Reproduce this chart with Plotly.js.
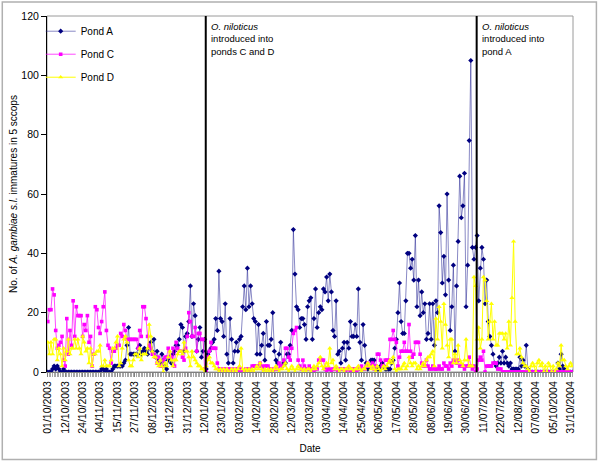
<!DOCTYPE html>
<html><head><meta charset="utf-8">
<script src="https://cdn.plot.ly/plotly-3.0.1.min.js"></script>
<style>html,body{margin:0;padding:0;background:#fff}#chart{width:600px;height:463px}</style>
</head><body><div id="chart"></div>
<script>
// Tick labels shown every 11th sampling occasion
const dateLabels = ['01/10/2003','12/10/2003','24/10/2003','04/11/2003','15/11/2003','27/11/2003','08/12/2003','19/12/2003','31/12/2003','12/01/2004','23/01/2004','03/02/2004','14/02/2004','28/02/2004','12/03/2004','23/03/2004','03/04/2004','14/04/2004','25/04/2004','06/05/2004','17/05/2004','28/05/2004','08/06/2004','19/06/2004','30/06/2004','11/07/2004','22/07/2004','12/08/2004','07/09/2004','05/10/2004','31/10/2004'];
const labelEvery = 11;

const pondA = [
0,0,0,1,2,1,2,1,0,0,
1,0,0,0,0,0,0,0,0,0,
0,0,0,0,0,0,0,0,0,0,
0,0,0,0,1,1,0,1,0,0,
0,1,2,2,2,2,2,2,3,4,
9,15,6,6,6,6,6,8,9,6,
7,8,7,6,8,10,7,11,5,7,
4,3,6,4,2,1,4,5,3,6,
7,9,9,11,16,15,7,12,13,17,
29,12,23,19,7,11,15,5,7,11,
1,6,7,8,10,11,18,14,34,18,
17,12,23,6,3,18,11,3,7,10,
7,11,12,22,29,21,35,22,29,23,
18,17,6,16,6,9,13,4,17,9,
9,11,20,7,4,3,6,10,2,3,
3,6,6,9,14,48,33,22,21,15,
18,18,16,11,22,24,25,11,18,28,
15,20,22,21,28,27,32,24,33,27,
14,12,24,6,7,3,8,10,4,10,
8,17,12,12,16,12,28,10,4,16,
9,3,1,2,4,4,4,1,1,1,
2,3,2,1,1,1,1,3,4,8,
11,20,30,17,13,13,24,40,40,35,
38,31,46,22,31,19,27,20,23,11,
13,23,11,23,9,24,20,56,47,30,
39,26,60,31,14,22,36,7,29,44,
66,52,56,67,22,36,78,105,42,38,
42,46,24,35,42,38,23,31,17,12,
9,6,3,2,3,5,3,7,3,5,
3,2,3,1,1,1,1,1,5,2,
4,2,9,1,0,0,0,0,0,0,
0,0,0,0,0,0,0,0,0,0,
0,0,3,1,6,2,1,0,0,0,
0,0];

const pondC = [
17,21,21,28,26,14,8,9,10,12,
4,2,18,6,14,9,24,12,22,19,
19,19,12,16,14,19,10,12,2,6,
22,21,15,13,17,22,27,14,9,8,
3,7,7,8,9,9,13,12,16,14,
11,11,11,11,11,11,11,8,14,12,
22,22,18,12,9,8,6,6,5,3,
5,2,2,4,5,5,8,5,5,8,
2,10,8,7,7,5,4,8,12,20,
17,12,12,15,7,13,13,11,11,1,
0,5,7,10,8,8,8,3,1,1,
0,1,1,0,1,1,0,1,0,1,
1,0,1,0,0,1,1,1,0,2,
2,2,2,2,3,2,1,2,2,2,
1,1,0,1,1,1,3,2,2,4,
8,8,5,4,8,13,14,15,4,2,
1,4,2,1,1,2,1,1,0,1,
1,4,4,4,4,1,0,1,1,0,
1,1,1,0,1,1,1,1,0,1,
1,0,1,1,1,0,1,1,2,1,
1,2,3,2,2,3,1,2,6,6,
4,2,2,4,4,4,11,11,14,11,
10,2,5,7,7,10,7,7,16,7,
5,6,10,10,10,6,3,2,2,4,
2,1,1,2,1,1,1,2,1,1,
3,2,2,1,3,2,4,4,3,4,
2,2,2,1,2,2,5,2,1,2,
0,1,4,5,4,7,0,2,2,2,
2,3,3,3,1,1,1,0,0,0,
0,0,0,0,0,0,0,0,0,0,
0,0,0,0,0,0,0,0,0,0,
0,0,0,0,0,0,0,0,0,0,
0,0,0,0,0,0,0,0,0,0,
0,0];

const pondD = [
10,6,10,6,11,11,4,8,6,2,
8,4,7,11,6,8,8,11,8,11,
8,6,12,10,7,8,3,8,2,6,
6,7,7,9,2,2,4,2,2,2,
4,8,8,10,12,2,3,8,11,12,
10,4,2,2,4,6,6,5,8,4,
6,6,6,8,16,12,7,5,5,3,
2,4,2,0,3,2,5,7,4,2,
4,4,6,7,7,6,10,7,7,5,
2,7,5,4,3,2,2,1,1,0,
2,4,5,3,3,2,1,1,0,1,
0,1,0,1,0,0,1,0,1,0,
1,2,8,1,0,1,0,1,0,1,
0,1,2,1,3,1,0,1,0,1,
0,1,0,1,2,1,0,1,1,2,
3,1,0,1,2,1,0,1,2,1,
1,0,1,0,1,1,0,1,2,1,
2,3,5,2,1,2,3,2,8,3,
4,1,2,1,0,1,1,0,1,1,
2,1,1,0,1,1,2,1,0,1,
1,2,3,2,1,2,1,0,2,1,
0,1,2,1,2,3,4,3,5,1,
0,1,1,1,2,3,1,2,5,3,
2,3,3,1,2,1,2,3,2,4,
5,5,6,7,2,18,11,22,17,8,
23,16,9,5,11,11,3,6,3,9,
4,3,2,4,11,4,2,2,2,32,
29,11,15,8,11,32,31,24,11,17,
23,11,17,9,9,13,13,13,11,13,
8,17,9,25,44,17,6,6,8,5,
3,2,2,1,0,2,3,2,0,3,
4,2,3,0,2,0,3,2,0,2,
0,1,3,2,9,4,4,2,1,2,
3,2];

// O. niloticus introductions (position between sampling occasions)
const introAt = [99.7, 270.7];
const introText = ['<i>O. niloticus</i><br>introduced into<br>ponds C and D', '<i>O. niloticus</i><br>introduced into<br>pond A'];

const seriesNames = ['Pond A', 'Pond C', 'Pond D'];
const seriesData = [pondA, pondC, pondD];
const seriesStyle = [
  {line: 'rgba(40,40,150,0.55)', marker: '#000080', symbol: 'diamond', size: 4},
  {line: 'rgba(255,0,255,0.7)', marker: '#ff00ff', symbol: 'square', size: 3.6},
  {line: '#ffff00', marker: '#ffff00', symbol: 'triangle-up', size: 4.6}
];

const traces = seriesData.map((vals, k) => ({
  type: 'scatter', mode: 'lines+markers', name: seriesNames[k], legendgroup: seriesNames[k],
  x: vals.map((_, i) => i), y: vals,
  line: {color: seriesStyle[k].line, width: 1},
  marker: {color: seriesStyle[k].marker, symbol: seriesStyle[k].symbol, size: seriesStyle[k].size, line: {width: 0}},
  hoverinfo: 'x+y+name'
}));

const tickvals = dateLabels.map((_, k) => k * labelEvery);
const nPts = pondA.length;

const shapes = [
  {type: 'rect', xref: 'paper', yref: 'paper', x0: 0, x1: 1, y0: 0, y1: 1, line: {color: '#9a9a9a', width: 1}, layer: 'below'},
  {type: 'rect', xref: 'paper', yref: 'paper', x0: -0.085, x1: 1.0445, y0: -0.246, y1: 1.039, line: {color: '#b0b0b0', width: 1.5}}
].concat(introAt.map(x => ({type: 'line', xref: 'x', yref: 'paper', x0: x, x1: x, y0: 0, y1: 1, line: {color: '#000', width: 2}})));

const annotations = introAt.map((x, k) => ({
  xref: 'x', yref: 'paper', x: x, y: 1, xanchor: 'left', yanchor: 'top', xshift: 3, yshift: -3,
  align: 'left', showarrow: false, text: introText[k], font: {size: 9.5, color: '#000'}
}));

const layout = {
  width: 600, height: 463,
  margin: {l: 47, r: 27, t: 16, b: 91},
  paper_bgcolor: '#fff', plot_bgcolor: '#fff',
  font: {family: '"Liberation Sans", Arial, sans-serif', size: 10, color: '#000'},
  showlegend: true,
  legend: {x: -0.012, y: 0.998, xanchor: 'left', yanchor: 'top', bgcolor: 'rgba(0,0,0,0)', font: {size: 10}, traceorder: 'grouped', tracegroupgap: 4},
  xaxis: {
    range: [-0.5, nPts - 0.5], tickmode: 'array', tickvals: tickvals, ticktext: dateLabels, tickangle: -90,
    ticks: 'outside', ticklen: 4, tickcolor: '#808080', showline: true, linecolor: '#808080', linewidth: 1,
    zeroline: false, showgrid: false, tickfont: {size: 10.5},
    minor: {tickmode: 'linear', tick0: 0, dtick: 1, ticks: 'outside', ticklen: 4, tickcolor: '#a8a8a8', showgrid: false},
    title: {text: 'Date', font: {size: 10}, standoff: 12}, automargin: false, fixedrange: true
  },
  yaxis: {
    range: [0, 120], tick0: 0, dtick: 20, ticks: 'outside', ticklen: 5, tickcolor: '#000',
    showline: true, linecolor: '#000', linewidth: 1, zeroline: false, showgrid: false, tickfont: {size: 10.5},
    title: {text: 'No. of <i>A. gambiae s.l.</i> immatures in 5 sccops', font: {size: 10}, standoff: 1}, automargin: false, fixedrange: true
  },
  shapes: shapes,
  annotations: annotations
};

Plotly.newPlot('chart', traces, layout, {displayModeBar: false, staticPlot: true});
</script>
</body></html>
